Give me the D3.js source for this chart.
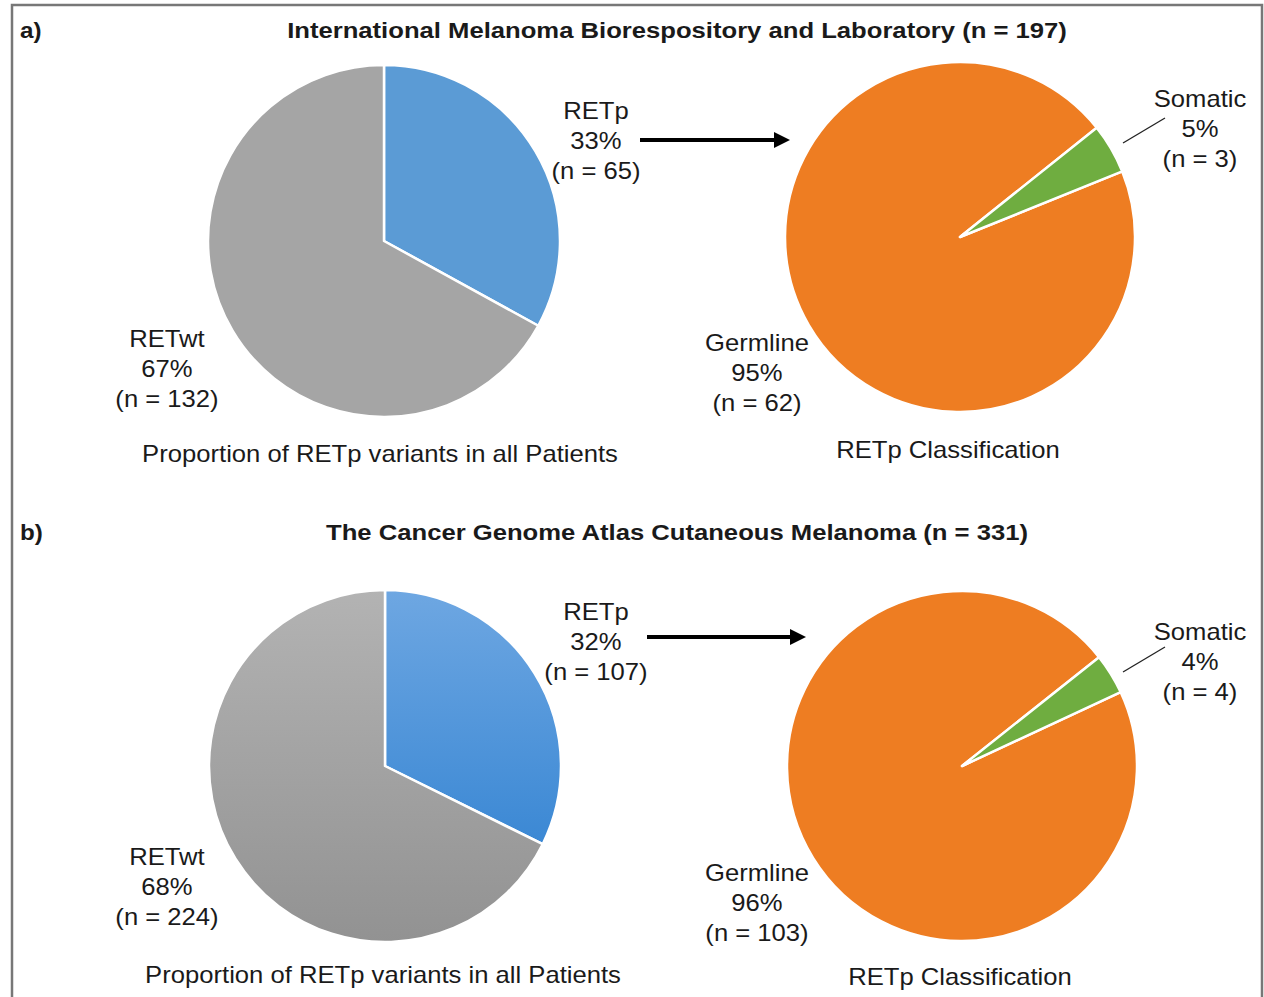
<!DOCTYPE html>
<html>
<head>
<meta charset="utf-8">
<script src="https://cdnjs.cloudflare.com/ajax/libs/d3/7.8.5/d3.min.js"></script>
<style>
  html, body { margin: 0; padding: 0; background: #fff; }
  svg { display: block; }
  text { font-family: "Liberation Sans", Arial, sans-serif; fill: #1a1a1a; }
</style>
</head>
<body>
<svg id="chart" width="1264" height="997"></svg>
<script>
const W = 1264;
const H = 997;

// data
const panelLetters = ['a)', 'b)'];
const cohortTitles = [
  'International Melanoma Biorespository and Laboratory (n = 197)',
  'The Cancer Genome Atlas Cutaneous Melanoma (n = 331)'
];
const statusLabels = ['RETp', 'RETwt'];
const statusCounts = [[65, 132], [107, 224]];
const statusPct = [[33, 67], [32, 68]];
const classLabels = ['Germline', 'Somatic'];
const classCounts = [[62, 3], [103, 4]];
const classPct = [[95, 5], [96, 4]];
const captions = ['Proportion of RETp variants in all Patients', 'RETp Classification'];

const svg = d3.select('#chart');
const defs = svg.append('defs');

// gradients used in panel b
function grad(id, top, bottom) {
  const g = defs.append('linearGradient').attr('id', id)
    .attr('x1', 0).attr('y1', 0).attr('x2', 0).attr('y2', 1);
  g.append('stop').attr('offset', '0%').attr('stop-color', top);
  g.append('stop').attr('offset', '100%').attr('stop-color', bottom);
}
grad('gBlue', '#6ea7e2', '#3b88d4');
grad('gGray', '#b3b3b3', '#929292');

const statusFill = [['#5b9bd5', '#a5a5a5'], ['url(#gBlue)', 'url(#gGray)']];
const classFill = [['#ee7d22', '#6fad40'], ['#ee7d22', '#6fad40']];

// frame
svg.append('rect')
  .attr('x', 12).attr('y', 5)
  .attr('width', 1250).attr('height', H + 20)
  .attr('fill', 'none').attr('stroke', '#777').attr('stroke-width', 2.5);

const FS = 23;
const LH = 30;
const SX = 1.115;   // the figure is a bit stretched sideways

// text drawn at (x,y) with a horizontal stretch
function stext(x, y, s, opts = {}) {
  const t = svg.append('text')
    .attr('transform', `translate(${x},${y}) scale(${opts.sx || SX},1)`)
    .attr('text-anchor', opts.anchor || 'middle')
    .attr('font-size', opts.size || FS)
    .text(s);
  if (opts.bold) t.attr('font-weight', 'bold');
  return t;
}

function label(lines, x, y) {
  lines.forEach((s, i) => stext(x, y + i * LH, s));
}

const titleY = [38, 540];
const R = 176;

const pieLeft = d3.pie().sort(null).value(d => d);
const arc = d3.arc().innerRadius(0).outerRadius(R);

panelLetters.forEach((letter, p) => {
  stext(20, titleY[p], letter, { anchor: 'start', bold: true, size: 22, sx: 1.1 });
  stext(677, titleY[p], cohortTitles[p], { bold: true, size: 22, sx: 1.166 });

  // left pie: RETp vs RETwt
  const cxL = p ? 385 : 384;
  const cyL = p ? 766 : 241;
  const gL = svg.append('g').attr('transform', `translate(${cxL},${cyL})`);
  gL.selectAll('path')
    .data(pieLeft(statusCounts[p]))
    .join('path')
    .attr('d', arc)
    .attr('fill', (d, i) => statusFill[p][i])
    .attr('stroke', '#fff').attr('stroke-width', 2.5)
    .attr('stroke-linejoin', 'round');

  label([statusLabels[0], statusPct[p][0] + '%', '(n = ' + statusCounts[p][0] + ')'],
    596, (p ? 620 : 119));
  label([statusLabels[1], statusPct[p][1] + '%', '(n = ' + statusCounts[p][1] + ')'],
    167, (p ? 865 : 347));

  // arrow
  const ay = p ? 637 : 140;
  const ax0 = p ? 647 : 640;
  const ax1 = p ? 806 : 790;
  svg.append('line')
    .attr('x1', ax0).attr('y1', ay).attr('x2', ax1 - 14).attr('y2', ay)
    .attr('stroke', '#000').attr('stroke-width', 4);
  svg.append('path')
    .attr('d', `M${ax1},${ay} L${ax1 - 16},${ay - 8} L${ax1 - 16},${ay + 8} Z`)
    .attr('fill', '#000');

  // right pie: germline vs somatic
  const cxR = p ? 962 : 960;
  const cyR = p ? 766 : 237;
  const start = (p ? 65 : 68) * Math.PI / 180;
  const pieRight = d3.pie().sort(null).value(d => d)
    .startAngle(start).endAngle(start + 2 * Math.PI);
  const gR = svg.append('g').attr('transform', `translate(${cxR},${cyR})`);
  gR.selectAll('path')
    .data(pieRight(classCounts[p]))
    .join('path')
    .attr('d', d3.arc().innerRadius(0).outerRadius(175))
    .attr('fill', (d, i) => classFill[p][i])
    .attr('stroke', '#fff').attr('stroke-width', 2.5)
    .attr('stroke-linejoin', 'round');

  label([classLabels[1], classPct[p][1] + '%', '(n = ' + classCounts[p][1] + ')'],
    1200, (p ? 640 : 107));
  label([classLabels[0], classPct[p][0] + '%', '(n = ' + classCounts[p][0] + ')'],
    757, (p ? 881 : 351));

  // leader line for somatic
  const ly = p ? 672 : 143;
  svg.append('line')
    .attr('x1', 1123).attr('y1', ly).attr('x2', 1165).attr('y2', ly - 25)
    .attr('stroke', '#222').attr('stroke-width', 1.3);

  // captions
  stext(p ? 383 : 380, p ? 983 : 462, captions[0]);
  stext(p ? 960 : 948, p ? 985 : 458, captions[1]);
});
</script>
</body>
</html>
